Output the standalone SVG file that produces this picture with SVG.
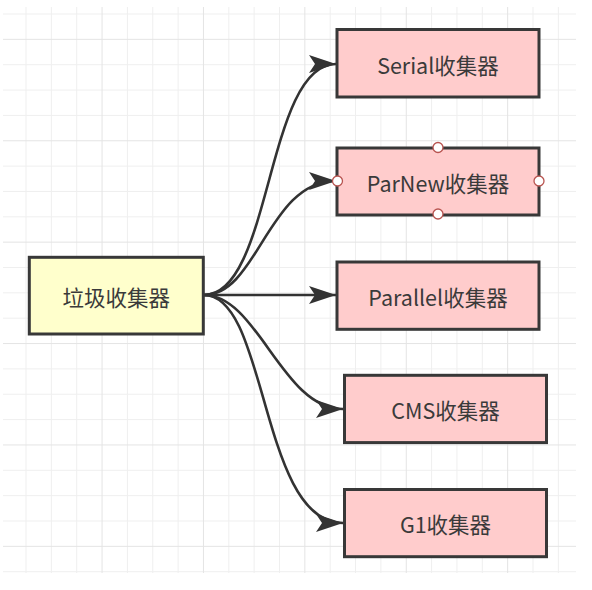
<svg xmlns="http://www.w3.org/2000/svg" width="592" height="590" viewBox="0 0 592 590">
<defs>
<style>
.grid{stroke:#efefef;stroke-width:1;fill:none}
.major{stroke:#e4e4e4;stroke-width:1;fill:none}
.box{stroke:#383838;stroke-width:3}
.yellow{fill:#ffffcc}
.pink{fill:#ffcccc}
.lbl{font-family:"Microsoft YaHei","Noto Sans CJK SC","Noto Sans",sans-serif;font-size:21.5px;fill:#3a3a3a;text-anchor:middle;dominant-baseline:central}
.edge{fill:none;stroke:#333;stroke-width:2.6;marker-end:url(#arr)}
.pt{fill:#fff;stroke:#b85450;stroke-width:1.3}
</style>
<marker id="arr" markerUnits="userSpaceOnUse" markerWidth="30" markerHeight="22" refX="27" refY="10" orient="auto">
<path d="M0,1 L27,10 L0,19 L6,10 Z" fill="#333"/>
</marker>
</defs>
<rect width="592" height="590" fill="#fff"/>
<g id="grid">
<path class="grid" d="M26,7V573M51.35,7V573M76.7,7V573M127.4,7V573M152.75,7V573M178.1,7V573M228.8,7V573M254.15,7V573M279.5,7V573M330.2,7V573M355.55,7V573M380.9,7V573M431.6,7V573M456.95,7V573M482.3,7V573M533,7V573M558.35,7V573"/>
<path class="grid" d="M3,14H576M3,64.7H576M3,90.05H576M3,115.4H576M3,166.1H576M3,191.45H576M3,216.8H576M3,267.5H576M3,292.85H576M3,318.2H576M3,368.9H576M3,394.25H576M3,419.6H576M3,470.3H576M3,495.65H576M3,521H576M3,571.7H576"/>
<path class="major" d="M102.05,7V573M203.45,7V573M304.85,7V573M406.25,7V573M507.65,7V573"/>
<path class="major" d="M3,39.35H576M3,140.75H576M3,242.15H576M3,343.55H576M3,444.95H576M3,546.35H576"/>
</g>
<g id="connectors">
<path class="edge" d="M204,295 C272,295 266,64 336,64"/>
<path class="edge" d="M204,295 C258,295 268,181 336,181"/>
<path class="edge" d="M204,295 L336,295"/>
<path class="edge" d="M204,295 C258,295 282,409 343,409"/>
<path class="edge" d="M204,295 C268,295 260,523 343,523"/>
</g>
<g id="n-gc">
<rect class="box yellow" x="29.3" y="257.3" width="174" height="76.7"/>
<text class="lbl" x="116.3" y="296">垃圾收集器</text>
</g>
<g id="n-serial">
<rect class="box pink" x="337" y="29.5" width="202" height="67.5"/>
<text class="lbl" x="438" y="64">Serial收集器</text>
</g>
<g id="n-parnew">
<rect class="box pink" x="337" y="148" width="202" height="67"/>
<text class="lbl" x="438" y="182">ParNew收集器</text>
<circle class="pt" cx="438" cy="147.5" r="5"/>
<circle class="pt" cx="438" cy="214" r="5"/>
<circle class="pt" cx="337.5" cy="181" r="5"/>
<circle class="pt" cx="539" cy="181" r="5"/>
</g>
<g id="n-parallel">
<rect class="box pink" x="337" y="262" width="202" height="67.3"/>
<text class="lbl" x="438" y="296">Parallel收集器</text>
</g>
<g id="n-cms">
<rect class="box pink" x="344.5" y="375.3" width="202" height="67.3"/>
<text class="lbl" x="445.5" y="409">CMS收集器</text>
</g>
<g id="n-g1">
<rect class="box pink" x="344.5" y="489.5" width="202" height="67.2"/>
<text class="lbl" x="445.5" y="523">G1收集器</text>
</g>
</svg>
